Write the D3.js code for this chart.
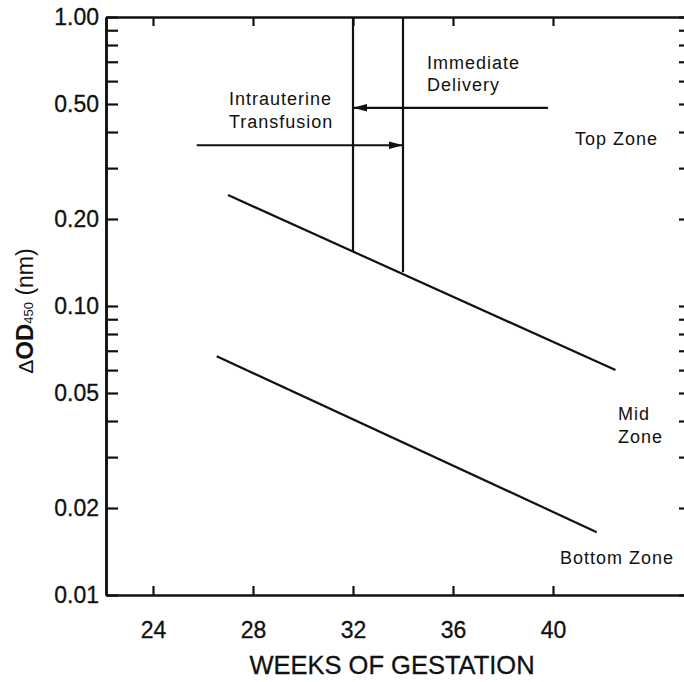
<!DOCTYPE html>
<html>
<head>
<style>
body { margin: 0; background: #fff; }
svg { display: block; font-family: "Liberation Sans", Arial, sans-serif; }
</style>
</head>
<body>
<script src="https://d3js.org/d3.v7.min.js"></script>
<script>

const width = 684;
const height = 682;

// tick values
const weekTicks = [24, 28, 32, 36, 40];
const odMajorTicks = [1, 0.5, 0.2, 0.1, 0.05, 0.02, 0.01];
const odMinorTicks = [0.9, 0.8, 0.7, 0.6, 0.4, 0.3, 0.09, 0.08, 0.07, 0.06, 0.04, 0.03];

// zone boundaries [week, delta OD]
const midZoneLine = [[27.0, 0.242], [42.5, 0.060]];
const bottomZoneLine = [[26.55, 0.067], [41.75, 0.0165]];

// vertical action lines
const actionWeeks = [32, 34];
const actionFloors = [0.155, 0.131];

// arrows [week, delta OD]
const arrowStarts = [[39.8, 0.485], [25.75, 0.36]];
const arrowEnds = [[32, 0.485], [34, 0.36]];

// text notes, anchored at first line's baseline
const noteLines = [['Intrauterine', 'Transfusion'], ['Immediate', 'Delivery'], ['Top Zone'], ['Mid', 'Zone'], ['Bottom Zone']];
const noteWeeks = [27.04, 34.96, 40.88, 42.6, 40.28];
const noteOds = [0.496, 0.661, 0.361, 0.0403, 0.0128];

const plotLeft = 106, plotRight = 691, plotTop = 17, plotBottom = 595;

const x = d3.scaleLinear().domain([22.12, 45.52]).range([plotLeft, plotRight]);
const y = d3.scaleLog().domain([0.01, 1]).range([plotBottom, plotTop]);

const svg = d3.select('body')
  .append('svg')
  .attr('width', width)
  .attr('height', height);

svg.append('defs').selectAll('marker')
  .data(['head'])
  .enter()
  .append('marker')
    .attr('id', d => d)
    .attr('markerUnits', 'userSpaceOnUse')
    .attr('viewBox', '0 -4 14 8')
    .attr('refX', 14)
    .attr('refY', 0)
    .attr('markerWidth', 14)
    .attr('markerHeight', 8)
    .attr('orient', 'auto')
  .append('path')
    .attr('d', 'M0,-3.8L14,0L0,3.8Z')
    .attr('fill', '#111');

const styleAxis = g => {
  g.select('.domain').attr('stroke', '#111').attr('stroke-width', 2.5);
  g.selectAll('.tick line').attr('stroke', '#111').attr('stroke-width', 2.2);
  g.selectAll('.tick text').attr('fill', '#111').attr('font-size', 23)
    .attr('stroke', '#111').attr('stroke-width', 0.3)
    .attr('font-family', '"Liberation Sans", Arial, sans-serif');
};

// left axis
svg.append('g')
  .attr('transform', `translate(${plotLeft},0)`)
  .call(d3.axisLeft(y).tickValues(odMajorTicks).tickFormat(d3.format('.2f'))
    .tickSizeInner(-12).tickSizeOuter(0).tickPadding(7))
  .call(styleAxis);

svg.append('g')
  .attr('transform', `translate(${plotLeft},0)`)
  .call(d3.axisLeft(y).tickValues(odMinorTicks).tickFormat('').tickSizeInner(-12).tickSizeOuter(0))
  .call(styleAxis);

// right axis
svg.append('g')
  .attr('transform', `translate(${plotRight},0)`)
  .call(d3.axisRight(y).tickValues(odMajorTicks.concat(odMinorTicks)).tickFormat('')
    .tickSizeInner(-12).tickSizeOuter(0))
  .call(styleAxis);

// bottom axis
svg.append('g')
  .attr('transform', `translate(0,${plotBottom})`)
  .call(d3.axisBottom(x).tickValues(weekTicks).tickSizeInner(-9).tickSizeOuter(0).tickPadding(27))
  .call(styleAxis);

// top axis
svg.append('g')
  .attr('transform', `translate(0,${plotTop})`)
  .call(d3.axisTop(x).tickValues(weekTicks).tickFormat('').tickSizeInner(-9).tickSizeOuter(0))
  .call(styleAxis);

// axis titles
svg.append('text')
  .attr('x', 392)
  .attr('y', 674)
  .attr('text-anchor', 'middle')
  .attr('font-size', 25.5)
  .attr('fill', '#111')
  .attr('stroke', '#111')
  .attr('stroke-width', 0.3)
  .text('WEEKS OF GESTATION');

const yTitle = svg.append('text')
  .attr('transform', 'translate(33,311) rotate(-90)')
  .attr('text-anchor', 'middle')
  .attr('fill', '#111');
yTitle.append('tspan').attr('font-size', 21).text('\u0394');
yTitle.append('tspan').attr('font-size', 24).attr('font-weight', 'bold').text('OD');
yTitle.append('tspan').attr('font-size', 13).text('450');
yTitle.append('tspan').attr('font-size', 23).text(' (nm)');

// zone boundaries
const line = d3.line().x(d => x(d[0])).y(d => y(d[1]));

svg.selectAll('path.zone')
  .data([midZoneLine, bottomZoneLine])
  .enter()
  .append('path')
    .attr('class', 'zone')
    .attr('d', line)
    .attr('fill', 'none')
    .attr('stroke', '#111')
    .attr('stroke-width', 2.2);

// action lines
svg.selectAll('line.action')
  .data(actionWeeks)
  .enter()
  .append('line')
    .attr('class', 'action')
    .attr('x1', d => x(d))
    .attr('x2', d => x(d))
    .attr('y1', y(1))
    .attr('y2', (d, i) => y(actionFloors[i]))
    .attr('stroke', '#111')
    .attr('stroke-width', 2.2);

// arrows
svg.selectAll('line.arrow')
  .data(arrowStarts)
  .enter()
  .append('line')
    .attr('class', 'arrow')
    .attr('x1', d => x(d[0]))
    .attr('y1', d => y(d[1]))
    .attr('x2', (d, i) => x(arrowEnds[i][0]))
    .attr('y2', (d, i) => y(arrowEnds[i][1]))
    .attr('stroke', '#111')
    .attr('stroke-width', 2.2)
    .attr('marker-end', 'url(#head)');

// notes
const notes = svg.selectAll('text.note')
  .data(noteLines)
  .enter()
  .append('text')
    .attr('class', 'note')
    .attr('font-size', 18)
    .attr('letter-spacing', 1)
    .attr('fill', '#111');

notes.selectAll('tspan')
  .data((d, i) => d.map((t, j) => ({t, j, i})))
  .enter()
  .append('tspan')
    .attr('x', d => x(noteWeeks[d.i]))
    .attr('y', d => y(noteOds[d.i]) + d.j * 22.5)
    .text(d => d.t);

</script>
</body>
</html>
